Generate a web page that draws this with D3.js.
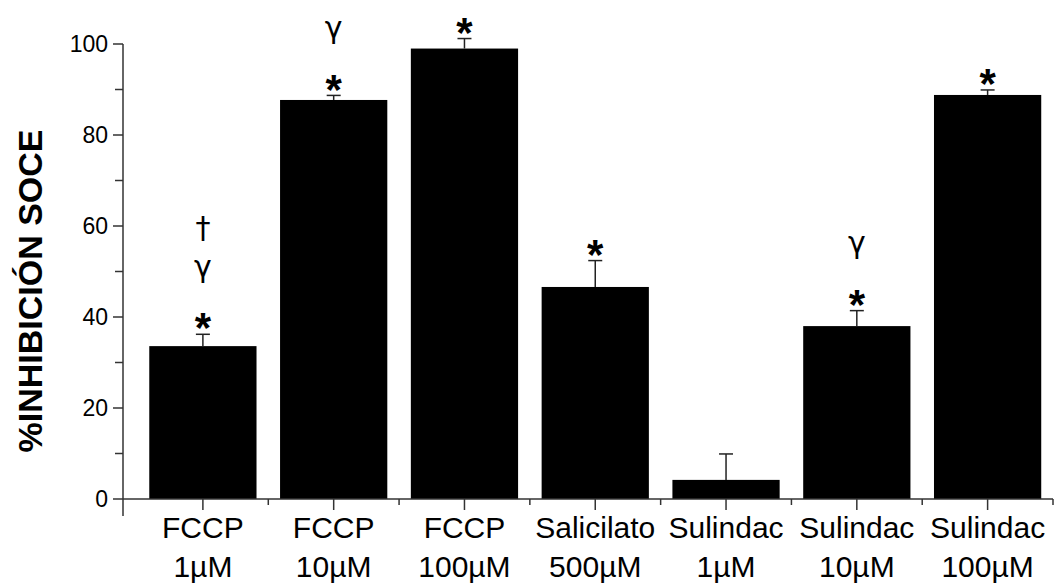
<!DOCTYPE html>
<html lang="es">
<head>
  <meta charset="UTF-8">
  <title>% Inhibición SOCE</title>
  <script src="https://d3js.org/d3.v7.min.js"></script>
  <style>
    body { margin: 0; background: #fff; }
    svg text { font-family: "Liberation Sans", Arial, sans-serif; fill: #000; }
  </style>
</head>
<body>
  <svg width="1056" height="583"></svg>

  <script>
    // data
    const drugs = ["FCCP", "FCCP", "FCCP", "Salicilato", "Sulindac", "Sulindac", "Sulindac"];
    const doses = ["1µM", "10µM", "100µM", "500µM", "1µM", "10µM", "100µM"];
    const means = [33.6, 87.7, 99.0, 46.6, 4.2, 38.0, 88.8];
    const sems = [2.6, 1.0, 2.2, 5.8, 5.7, 3.4, 1.1];
    const marks = [["*", "γ", "†"], ["*", "γ"], ["*"], ["*"], [], ["*", "γ"], ["*"]];
    const yTicks = [0, 20, 40, 60, 80, 100];
    const yMinor = [10, 30, 50, 70, 90];

    const svg = d3.select("svg");
    const axisX = 123, baseY = 499;

    const y = d3.scaleLinear().domain([0, 100]).range([baseY, 44]);
    const x = d3.scaleBand()
      .domain(d3.range(drugs.length))
      .range([137.5, 1053])
      .paddingInner(0.18)
      .paddingOuter(0.09);

    const axisColor = "#333";

    // y axis line (runs a bit below zero like the original)
    svg.append("line")
      .attr("x1", axisX).attr("x2", axisX)
      .attr("y1", y(100)).attr("y2", 516)
      .attr("stroke", axisColor).attr("stroke-width", 1.5);

    // y ticks
    svg.selectAll(".ytick").data(yTicks).enter().append("line")
      .attr("x1", axisX - 10).attr("x2", axisX)
      .attr("y1", d => y(d)).attr("y2", d => y(d))
      .attr("stroke", axisColor).attr("stroke-width", 1.5);
    svg.selectAll(".yminor").data(yMinor).enter().append("line")
      .attr("x1", axisX - 8).attr("x2", axisX)
      .attr("y1", d => y(d)).attr("y2", d => y(d))
      .attr("stroke", axisColor).attr("stroke-width", 1.5);
    svg.selectAll(".ylab").data(yTicks).enter().append("text")
      .attr("x", axisX - 15)
      .attr("y", d => y(d))
      .attr("dy", "0.36em")
      .attr("text-anchor", "end")
      .style("font-size", "23px")
      .text(d => d);

    // y title
    svg.append("text")
      .attr("transform", `translate(42,291) rotate(-90)`)
      .attr("text-anchor", "middle")
      .style("font-size", "34px")
      .style("font-weight", "bold")
      .text("%INHIBICIÓN SOCE");

    // bars
    svg.selectAll(".bar").data(means).enter().append("rect")
      .attr("x", (d, i) => x(i))
      .attr("width", x.bandwidth())
      .attr("y", d => y(d))
      .attr("height", d => baseY - y(d))
      .attr("fill", "#000");

    // error bars (upper only)
    const cx = i => x(i) + x.bandwidth() / 2;
    const errG = svg.append("g").attr("stroke", "#222").attr("stroke-width", 1.5);
    means.forEach((m, i) => {
      errG.append("line")
        .attr("x1", cx(i)).attr("x2", cx(i))
        .attr("y1", y(m)).attr("y2", y(m + sems[i]));
      errG.append("line")
        .attr("x1", cx(i) - 7).attr("x2", cx(i) + 7)
        .attr("y1", y(m + sems[i])).attr("y2", y(m + sems[i]));
    });

    // x axis
    svg.append("line")
      .attr("x1", axisX).attr("x2", 1053)
      .attr("y1", baseY).attr("y2", baseY)
      .attr("stroke", axisColor).attr("stroke-width", 1.5);
    svg.selectAll(".xtick").data(d3.range(drugs.length)).enter().append("line")
      .attr("x1", cx).attr("x2", cx)
      .attr("y1", baseY).attr("y2", baseY + 11)
      .attr("stroke", axisColor).attr("stroke-width", 1.5);
    svg.selectAll(".xminor").data(d3.range(1, drugs.length + 1)).enter().append("line")
      .attr("x1", i => 137.5 + i * x.step()).attr("x2", i => 137.5 + i * x.step())
      .attr("y1", baseY).attr("y2", baseY + 6)
      .attr("stroke", axisColor).attr("stroke-width", 1.5);

    const labels = svg.selectAll(".xlab").data(drugs).enter().append("text")
      .attr("text-anchor", "middle")
      .style("font-size", "30px");
    labels.append("tspan")
      .attr("x", (d, i) => cx(i)).attr("y", 538)
      .text(d => d);
    labels.append("tspan")
      .attr("x", (d, i) => cx(i)).attr("y", 577)
      .text((d, i) => doses[i]);

    // significance marks stacked above the error caps
    marks.forEach((list, i) => {
      const top = y(means[i] + sems[i]);
      list.forEach((s, k) => {
        const center = top - 17 - k * 44;
        const size = s === "*" ? 42 : (s === "γ" ? 30 : 30);
        const shift = s === "*" ? 0.6 * size : (s === "γ" ? 0.12 * size : 0.3 * size);
        svg.append("text")
          .attr("x", cx(i))
          .attr("y", center + shift)
          .attr("text-anchor", "middle")
          .style("font-family", s === "*" ? null : "'DejaVu Sans', sans-serif")
          .style("font-size", size + "px")
          .style("font-weight", s === "*" ? "bold" : "normal")
          .text(s);
      });
    });
  </script>
</body>
</html>
